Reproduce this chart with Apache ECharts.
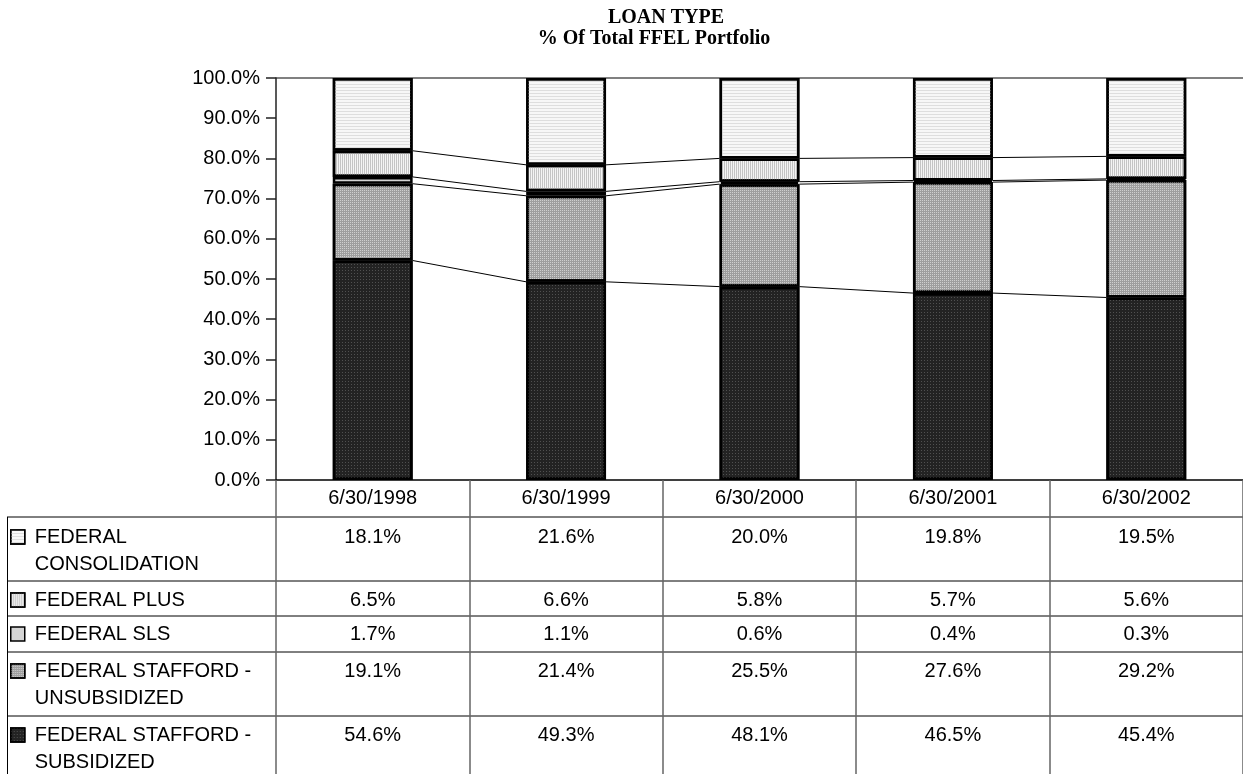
<!DOCTYPE html>
<html>
<head>
<meta charset="utf-8">
<script src="https://cdn.jsdelivr.net/npm/echarts@6/dist/echarts.min.js"></script>
<style>
  html, body { margin: 0; padding: 0; background: #fff; }
  #chart { width: 1243px; height: 774px; }
</style>
</head>
<body>
<div id="chart"></div>
<script>
// Loan-type shares of the FFEL portfolio, by fiscal date
const categories = ['6/30/1998', '6/30/1999', '6/30/2000', '6/30/2001', '6/30/2002'];
const staffordSub = [54.6, 49.3, 48.1, 46.5, 45.4];
const staffordUnsub = [19.1, 21.4, 25.5, 27.6, 29.2];
const sls = [1.7, 1.1, 0.6, 0.4, 0.3];
const plus = [6.5, 6.6, 5.8, 5.7, 5.6];
const consolidation = [18.1, 21.6, 20.0, 19.8, 19.5];

const nameCons = 'FEDERAL\nCONSOLIDATION';
const namePlus = 'FEDERAL PLUS';
const nameSls = 'FEDERAL SLS';
const nameUnsub = 'FEDERAL STAFFORD -\nUNSUBSIDIZED';
const nameSub = 'FEDERAL STAFFORD -\nSUBSIDIZED';

// stack order, bottom first
const stackSeries = [
  { name: nameSub, data: staffordSub, color: '#232323',
    decal: { symbol: 'rect', symbolSize: 1, color: '#505050', dashArrayX: [1, 2], dashArrayY: [1, 2] } },
  { name: nameUnsub, data: staffordUnsub, color: '#9e9e9e',
    decal: { symbol: 'rect', symbolSize: 1, color: '#cfcfcf', dashArrayX: [1, 1], dashArrayY: [1, 1] } },
  { name: nameSls, data: sls, color: '#d4d4d4', decal: null },
  { name: namePlus, data: plus, color: '#f4f4f4',
    decal: { symbol: 'rect', symbolSize: 1, color: '#c4c4c4', dashArrayX: [1, 1], dashArrayY: [4, 0] } },
  { name: nameCons, data: consolidation, color: '#f7f7f7',
    decal: { symbol: 'rect', symbolSize: 1, color: '#dedede', dashArrayX: [4, 0], dashArrayY: [1, 2] } }
];

// table rows, top to bottom: label, values, first-line centre y
const tableRows = [
  { name: nameCons, values: consolidation, y: 537 },
  { name: namePlus, values: plus, y: 600 },
  { name: nameSls, values: sls, y: 634 },
  { name: nameUnsub, values: staffordUnsub, y: 671 },
  { name: nameSub, values: staffordSub, y: 735 }
];
const rowLines = [517, 581, 616, 652, 716];

const FONT = '"Liberation Sans", Arial, sans-serif';
const SERIF = '"Liberation Serif", "Times New Roman", serif';
const FS = 20;
const LH = 27;
const BAR_RATIO = 0.413;

// cumulative stack tops per category
function cumulative(i) {
  const out = [];
  let s = 0;
  for (const ser of stackSeries) { s += ser.data[i]; out.push(s); }
  return out;
}

const chart = echarts.init(document.getElementById('chart'), null, { renderer: 'canvas' });

const series = stackSeries.map(s => ({
  name: s.name,
  type: 'bar',
  stack: 'total',
  data: s.data,
  barWidth: (BAR_RATIO * 100) + '%',
  itemStyle: { color: s.color, borderColor: '#000', borderWidth: 2.5, decal: s.decal || undefined },
  emphasis: { disabled: true },
  z: 3
}));

// connector lines between neighbouring stacks
series.push({
  type: 'custom',
  silent: true,
  clip: false,
  z: 2,
  data: categories.slice(0, -1).map((c, i) => [i, 0]),
  renderItem: function (params, api) {
    const i = api.value(0);
    const half = api.size([1, 0])[0] * BAR_RATIO / 2;
    const a = cumulative(i), b = cumulative(i + 1);
    const children = [];
    for (let k = 0; k < a.length - 1; k++) {
      const p1 = api.coord([i, a[k]]);
      const p2 = api.coord([i + 1, b[k]]);
      children.push({
        type: 'line',
        shape: { x1: p1[0] + half, y1: p1[1], x2: p2[0] - half, y2: p2[1] },
        style: { stroke: '#000', lineWidth: 1 }
      });
    }
    return { type: 'group', children: children };
  }
});

// one legend per table row; a blank leading line keeps the key beside the first text line
const legends = tableRows.map(r => {
  const lines = r.name.split('\n').length;
  const blockLines = lines === 1 ? 1 : 3;
  return {
    data: [r.name],
    left: 10,
    top: r.y - blockLines * LH / 2,
    padding: 0,
    itemWidth: 14,
    itemHeight: 14,
    selectedMode: false,
    icon: 'rect',
    formatter: name => (name.indexOf('\n') >= 0 ? ' \n' + name : name),
    itemStyle: { borderColor: '#000', borderWidth: 1.5 },
    textStyle: { fontFamily: FONT, fontSize: FS, color: '#000', lineHeight: LH, padding: [0, 0, 0, 5] }
  };
});

const splitColors = [];
for (let k = 0; k <= 10; k++) splitColors.push(k === 10 ? '#808080' : 'rgba(0,0,0,0)');

chart.setOption({
  animation: false,
  backgroundColor: '#fff',
  title: [
    {
      text: 'LOAN TYPE',
      left: 666, textAlign: 'center', top: 7, padding: 0,
      textStyle: { fontFamily: SERIF, fontWeight: 'bold', fontSize: 20, color: '#000', lineHeight: 21 }
    },
    {
      text: '% Of Total FFEL Portfolio',
      left: 654, textAlign: 'center', top: 28, padding: 0,
      textStyle: { fontFamily: SERIF, fontWeight: 'bold', fontSize: 20, color: '#000', lineHeight: 21 }
    }
  ],
  legend: legends,
  grid: { left: 276, top: 78, width: 969, height: 402, containLabel: false },
  xAxis: {
    type: 'category',
    data: categories,
    axisLine: { lineStyle: { color: '#000', width: 1.5 } },
    axisTick: { show: true, length: 300, lineStyle: { color: '#666', width: 1.5 } },
    axisLabel: { fontFamily: FONT, fontSize: FS, color: '#000', margin: 8 },
    splitLine: { show: false }
  },
  yAxis: {
    type: 'value',
    min: 0,
    max: 100,
    interval: 10,
    axisLine: { show: true, lineStyle: { color: '#222', width: 1.5 } },
    axisTick: { show: true, length: 10, lineStyle: { color: '#222', width: 1.5 } },
    axisLabel: { fontFamily: FONT, fontSize: FS, color: '#000', margin: 16, formatter: v => v.toFixed(1) + '%' },
    splitLine: { show: true, lineStyle: { color: splitColors, width: 2 } }
  },
  series: series
});

// data table: rules and the value cells
const graphics = [];
rowLines.forEach(y => {
  graphics.push({ type: 'line', silent: true, shape: { x1: 7, y1: y, x2: 1243, y2: y }, style: { stroke: '#000', lineWidth: 1 } });
});
graphics.push({ type: 'line', silent: true, shape: { x1: 7.5, y1: rowLines[0], x2: 7.5, y2: 774 }, style: { stroke: '#000', lineWidth: 1 } });
tableRows.forEach(r => {
  r.values.forEach((v, i) => {
    const x = chart.convertToPixel({ xAxisIndex: 0 }, categories[i]);
    graphics.push({
      type: 'text', silent: true, x: x, y: r.y,
      style: { text: v.toFixed(1) + '%', font: FS + 'px ' + FONT, fill: '#000', align: 'center', verticalAlign: 'middle' }
    });
  });
});
chart.setOption({ graphic: graphics });
</script>
</body>
</html>
